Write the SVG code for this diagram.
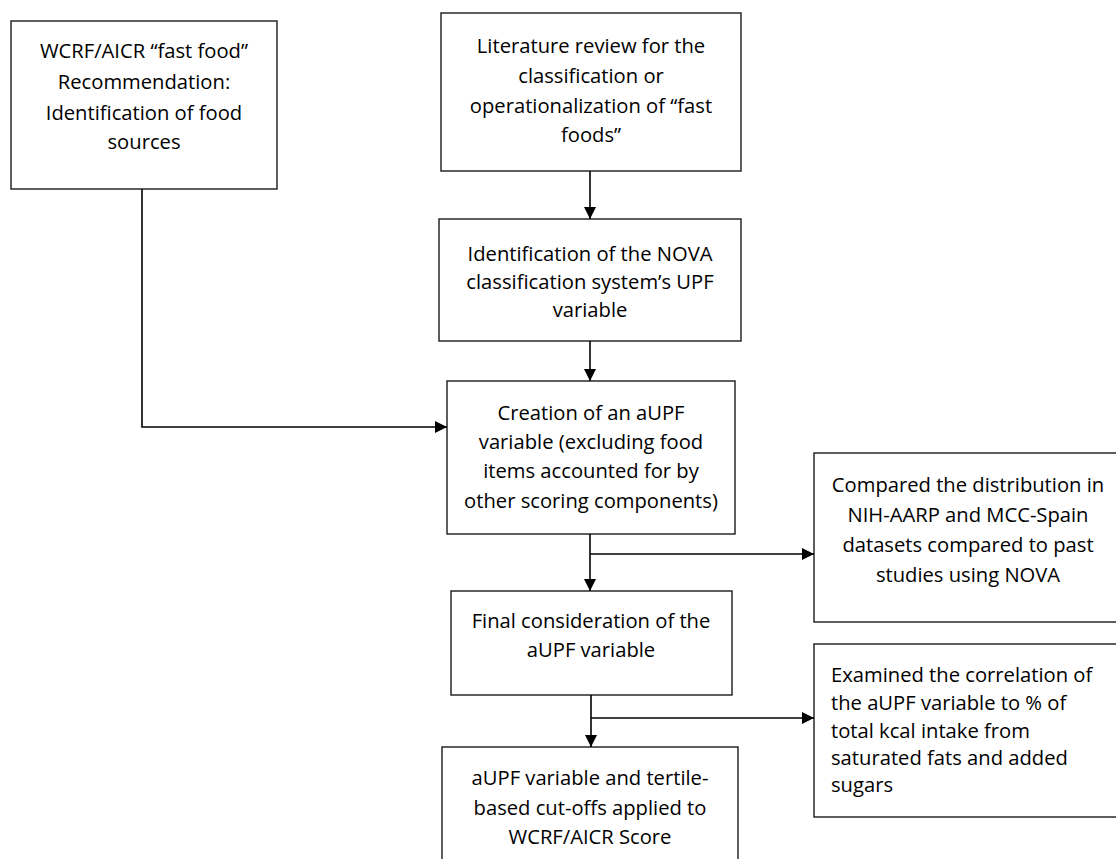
<svg xmlns="http://www.w3.org/2000/svg" width="1116" height="859" viewBox="0 0 1116 859">
<style>
.box{fill:#fff;stroke:#1a1a1a;stroke-width:1.4}
.t{font-family:"Open Sans","Liberation Sans",sans-serif;font-size:20.2px;fill:#000;text-anchor:middle}
.l{text-anchor:start}
.c{fill:none;stroke:#000;stroke-width:1.6}
</style>
<defs>
<marker id="ah" markerUnits="userSpaceOnUse" markerWidth="12" markerHeight="12" refX="12" refY="6" orient="auto">
<path d="M0,0 L12,6 L0,12 z" fill="#000"/>
</marker>
</defs>
<rect width="1116" height="859" fill="#fff"/>
<g id="n1"><rect class="box" x="11" y="21" width="266" height="168"/>
<text class="t" x="144" y="58">WCRF/AICR “fast food”</text>
<text class="t" x="144" y="89">Recommendation:</text>
<text class="t" x="144" y="120">Identification of food</text>
<text class="t" x="144" y="149">sources</text></g>
<g id="n2"><rect class="box" x="441" y="13" width="300" height="158"/>
<text class="t" x="591" y="53">Literature review for the</text>
<text class="t" x="591" y="83">classification or</text>
<text class="t" x="591" y="113">operationalization of “fast</text>
<text class="t" x="591" y="142">foods”</text></g>
<g id="n3"><rect class="box" x="439" y="219" width="302" height="122"/>
<text class="t" x="590" y="261">Identification of the NOVA</text>
<text class="t" x="590" y="289">classification system’s UPF</text>
<text class="t" x="590" y="317">variable</text></g>
<g id="n4"><rect class="box" x="447" y="381" width="288" height="153"/>
<text class="t" x="591" y="420">Creation of an aUPF</text>
<text class="t" x="591" y="449">variable (excluding food</text>
<text class="t" x="591" y="478">items accounted for by</text>
<text class="t" x="591" y="508">other scoring components)</text></g>
<g id="n5"><rect class="box" x="814" y="453" width="320" height="169"/>
<text class="t" x="968" y="492">Compared the distribution in</text>
<text class="t" x="968" y="522">NIH-AARP and MCC-Spain</text>
<text class="t" x="968" y="552">datasets compared to past</text>
<text class="t" x="968" y="582">studies using NOVA</text></g>
<g id="n6"><rect class="box" x="451" y="591" width="281" height="104"/>
<text class="t" x="591" y="628">Final consideration of the</text>
<text class="t" x="591" y="657">aUPF variable</text></g>
<g id="n7"><rect class="box" x="442" y="747" width="296" height="130"/>
<text class="t" x="590" y="785">aUPF variable and tertile-</text>
<text class="t" x="590" y="815">based cut-offs applied to</text>
<text class="t" x="590" y="844">WCRF/AICR Score</text></g>
<g id="n8"><rect class="box" x="814" y="644" width="320" height="173"/>
<text class="t l" x="831" y="682">Examined the correlation of</text>
<text class="t l" x="831" y="710">the aUPF variable to % of</text>
<text class="t l" x="831" y="738">total kcal intake from</text>
<text class="t l" x="831" y="765">saturated fats and added</text>
<text class="t l" x="831" y="792">sugars</text></g>
<g id="connectors">
<path class="c" d="M590,171 V219" marker-end="url(#ah)"/>
<path class="c" d="M590,341 V381" marker-end="url(#ah)"/>
<path class="c" d="M142,189 V427 H447" marker-end="url(#ah)"/>
<path class="c" d="M590,534 V591" marker-end="url(#ah)"/>
<path class="c" d="M590,554 H814" marker-end="url(#ah)"/>
<path class="c" d="M591,695 V747" marker-end="url(#ah)"/>
<path class="c" d="M591,718 H814" marker-end="url(#ah)"/>
</g>
</svg>
